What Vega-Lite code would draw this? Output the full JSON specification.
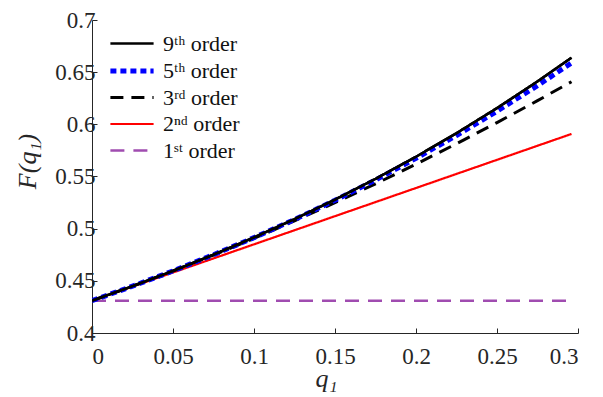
{
  "$schema": "https://vega.github.io/schema/vega-lite/v6.json",
  "width": 486,
  "height": 313,
  "autosize": "none",
  "padding": {"left": 92, "top": 20, "right": 25, "bottom": 64},
  "background": "white",
  "config": {
    "view": {"stroke": null},
    "font": "Liberation Serif",
    "axis": {
      "domainColor": "#262626",
      "tickColor": "#262626",
      "labelColor": "#262626",
      "titleColor": "#262626",
      "labelFont": "Liberation Serif",
      "titleFont": "Liberation Serif",
      "labelFontSize": 23,
      "titleFontSize": 26,
      "titleFontWeight": "normal",
      "titleFontStyle": "italic",
      "grid": false,
      "tickSize": -5,
      "domainWidth": 1,
      "tickWidth": 1
    },
    "legend": {
      "labelFont": "Liberation Serif",
      "labelFontSize": 22,
      "labelColor": "#111111"
    }
  },
  "data": {
    "values": [
      {"series": "1", "q": 0, "F": 0.431},
      {"series": "1", "q": 0.296, "F": 0.431},
      {"series": "2", "q": 0, "F": 0.431},
      {"series": "2", "q": 0.296, "F": 0.5908},
      {"series": "3", "q": 0, "F": 0.431},
      {"series": "3", "q": 0.025, "F": 0.44486},
      {"series": "3", "q": 0.05, "F": 0.45943},
      {"series": "3", "q": 0.075, "F": 0.47471},
      {"series": "3", "q": 0.1, "F": 0.49071},
      {"series": "3", "q": 0.125, "F": 0.50742},
      {"series": "3", "q": 0.15, "F": 0.52485},
      {"series": "3", "q": 0.175, "F": 0.54299},
      {"series": "3", "q": 0.2, "F": 0.56184},
      {"series": "3", "q": 0.225, "F": 0.58141},
      {"series": "3", "q": 0.25, "F": 0.60169},
      {"series": "3", "q": 0.275, "F": 0.62268},
      {"series": "3", "q": 0.296, "F": 0.64087},
      {"series": "5", "q": 0, "F": 0.431},
      {"series": "5", "q": 0.025, "F": 0.44487},
      {"series": "5", "q": 0.05, "F": 0.45952},
      {"series": "5", "q": 0.075, "F": 0.475},
      {"series": "5", "q": 0.1, "F": 0.4914},
      {"series": "5", "q": 0.125, "F": 0.50878},
      {"series": "5", "q": 0.15, "F": 0.52719},
      {"series": "5", "q": 0.175, "F": 0.54671},
      {"series": "5", "q": 0.2, "F": 0.56739},
      {"series": "5", "q": 0.225, "F": 0.58932},
      {"series": "5", "q": 0.25, "F": 0.61253},
      {"series": "5", "q": 0.275, "F": 0.63711},
      {"series": "5", "q": 0.296, "F": 0.65887},
      {"series": "9", "q": 0, "F": 0.431},
      {"series": "9", "q": 0.025, "F": 0.44487},
      {"series": "9", "q": 0.05, "F": 0.45954},
      {"series": "9", "q": 0.075, "F": 0.47508},
      {"series": "9", "q": 0.1, "F": 0.4916},
      {"series": "9", "q": 0.125, "F": 0.50915},
      {"series": "9", "q": 0.15, "F": 0.52785},
      {"series": "9", "q": 0.175, "F": 0.54775},
      {"series": "9", "q": 0.2, "F": 0.56894},
      {"series": "9", "q": 0.225, "F": 0.59153},
      {"series": "9", "q": 0.25, "F": 0.61557},
      {"series": "9", "q": 0.275, "F": 0.64115},
      {"series": "9", "q": 0.296, "F": 0.6639}
    ]
  },
  "encoding": {
    "x": {
      "field": "q",
      "type": "quantitative",
      "scale": {"domain": [0, 0.3], "nice": false},
      "axis": {
        "values": [0, 0.05, 0.1, 0.15, 0.2, 0.25, 0.3],
        "format": "~g",
        "labelPadding": 17,
        "title": "q₁",
        "titleX": 234,
        "titleY": 45,
        "titleBaseline": "middle",
        "titleAlign": "center"
      }
    },
    "y": {
      "field": "F",
      "type": "quantitative",
      "scale": {"domain": [0.4, 0.7], "nice": false, "zero": false},
      "axis": {
        "values": [0.4, 0.45, 0.5, 0.55, 0.6, 0.65, 0.7],
        "format": "~g",
        "labelPadding": 2,
        "title": "F(q₁)",
        "titleX": -65,
        "titleY": 141,
        "titleAngle": -90,
        "titleBaseline": "middle",
        "titleAlign": "center"
      }
    },
    "color": {
      "field": "series",
      "type": "nominal",
      "scale": {"domain": ["9", "5", "3", "2", "1"], "range": ["#000000", "#0000ff", "#000000", "#ff0000", "#a04cb0"]},
      "legend": {
        "orient": "none",
        "legendX": 24,
        "legendY": 8.5,
        "title": null,
        "symbolType": "M-1.6,0H1.6",
        "symbolSize": 729,
        "labelExpr": "{'9': '9ᵗʰ  order', '5': '5ᵗʰ order', '3': '3ʳᵈ order', '2': '2ⁿᵈ order', '1': '1ˢᵗ  order'}[datum.value]",
        "padding": 0,
        "rowPadding": 0.5,
        "labelOffset": 15
      }
    },
    "strokeDash": {
      "field": "series",
      "type": "nominal",
      "scale": {"domain": ["9", "5", "3", "2", "1"], "range": [[1, 0], [6, 4], [13, 8], [1, 0], [14, 9]]},
      "legend": null
    },
    "strokeWidth": {
      "field": "series",
      "type": "nominal",
      "scale": {"type": "ordinal", "domain": ["9", "5", "3", "2", "1"], "range": [2.5, 5, 3, 2.2, 2.5]},
      "legend": null
    }
  },
  "layer": [
    {"mark": {"type": "line", "clip": true}},
    {
      "transform": [{"filter": "datum.series === '9'"}],
      "mark": {"type": "line", "clip": true}
    }
  ]
}
